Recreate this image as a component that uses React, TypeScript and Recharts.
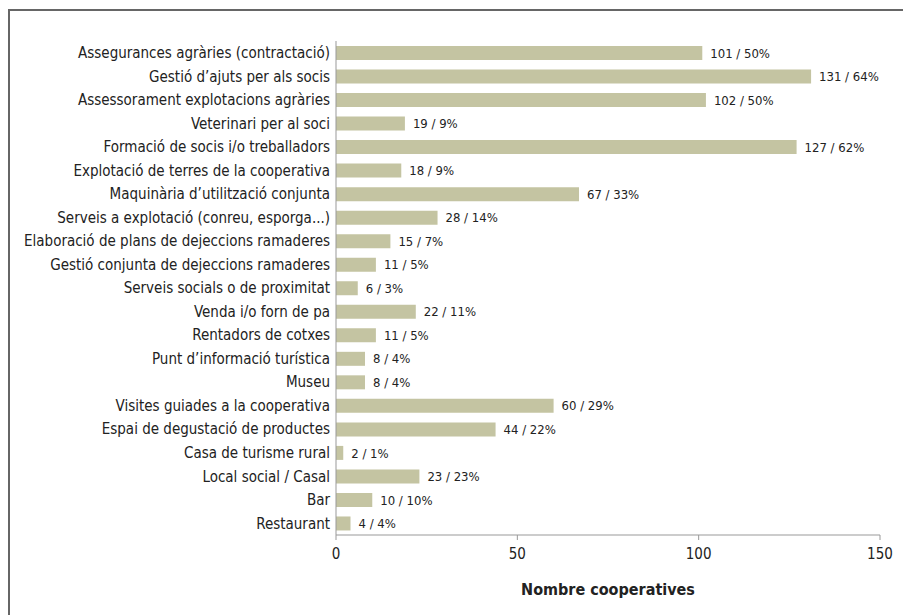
import React from "react";
import { BarChart, Bar, XAxis, YAxis, LabelList, Label } from "recharts";

const categories = [
  "Assegurances agràries (contractació)",
  "Gestió d’ajuts per als socis",
  "Assessorament explotacions agràries",
  "Veterinari per al soci",
  "Formació de socis i/o treballadors",
  "Explotació de terres de la cooperativa",
  "Maquinària d’utilització conjunta",
  "Serveis a explotació (conreu, esporga...)",
  "Elaboració de plans de dejeccions ramaderes",
  "Gestió conjunta de dejeccions ramaderes",
  "Serveis socials o de proximitat",
  "Venda i/o forn de pa",
  "Rentadors de cotxes",
  "Punt d’informació  turística",
  "Museu",
  "Visites guiades a la cooperativa",
  "Espai de degustació de productes",
  "Casa de turisme rural",
  "Local social / Casal",
  "Bar",
  "Restaurant",
];

const counts = [101, 131, 102, 19, 127, 18, 67, 28, 15, 11, 6, 22, 11, 8, 8, 60, 44, 2, 23, 10, 4];
const percents = [50, 64, 50, 9, 62, 9, 33, 14, 7, 5, 3, 11, 5, 4, 4, 29, 22, 1, 23, 10, 4];

const xTicks = [0, 50, 100, 150];
const axisTitle = "Nombre cooperatives";

const data = categories.map((name, i) => ({
  name,
  value: counts[i],
  label: `${counts[i]} / ${percents[i]}%`,
}));

const FONT = "'Liberation Sans Narrow', 'DejaVu Sans Condensed', 'Roboto Condensed', sans-serif";

export default function App() {
  return (
    <div
      style={{
        position: "absolute",
        left: 0,
        top: 0,
        width: 903,
        height: 615,
        background: "#fff",
        overflow: "hidden",
        fontFamily: FONT,
      }}
    >
      <div
        style={{
          position: "absolute",
          left: 8,
          top: 9,
          width: 900,
          height: 620,
          borderTop: "2px solid #666",
          borderLeft: "2px solid #666",
        }}
      />
      <div style={{ position: "absolute", left: 0, top: 0 }}>
        <BarChart
          width={903}
          height={615}
          data={data}
          layout="vertical"
          margin={{ top: 41, right: 23, bottom: 20, left: 0 }}
          barCategoryGap={5}
        >
          <XAxis
            type="number"
            domain={[0, 150]}
            ticks={xTicks}
            height={60}
            stroke="#999"
            tickSize={5}
            tickMargin={8}
            tick={{ fill: "#222", fontSize: 15, fontFamily: FONT }}
            interval={0}
          >
            <Label
              value={axisTitle}
              position="insideBottom"
              offset={0}
              style={{ fill: "#222", fontSize: 16, fontWeight: "bold", fontFamily: FONT }}
            />
          </XAxis>
          <YAxis
            type="category"
            dataKey="name"
            width={336}
            stroke="#999"
            tickLine={false}
            tickSize={0}
            tickMargin={6}
            interval={0}
            tick={{ fill: "#222", fontSize: 15, fontFamily: FONT }}
          />
          <Bar dataKey="value" fill="#c4c4a2" barSize={14} isAnimationActive={false}>
            <LabelList
              dataKey="label"
              position="right"
              offset={8}
              style={{ fill: "#222", fontSize: 13, fontFamily: FONT }}
            />
          </Bar>
        </BarChart>
      </div>
    </div>
  );
}
